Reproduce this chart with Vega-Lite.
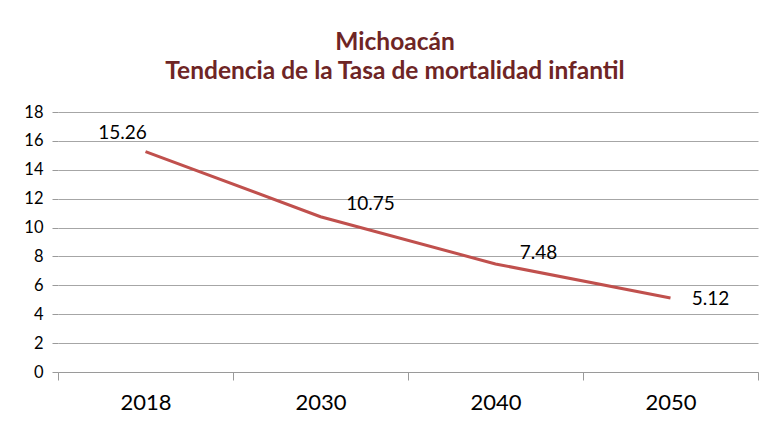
{
  "$schema": "https://vega.github.io/schema/vega-lite/v6.json",
  "width": 700,
  "height": 260,
  "autosize": {"type": "none"},
  "padding": {"left": 58, "top": 112, "right": 7, "bottom": 54},
  "background": "white",
  "title": {
    "text": ["Michoacán", "Tendencia de la Tasa de mortalidad infantil"],
    "font": "Lato",
    "fontSize": 24.5,
    "fontWeight": "bold",
    "color": "#6E2525",
    "lineHeight": 29,
    "anchor": "middle",
    "dx": -13,
    "offset": 20
  },
  "data": {
    "values": [
      {"year": "2018", "tasa": 15.26},
      {"year": "2030", "tasa": 10.75},
      {"year": "2040", "tasa": 7.48},
      {"year": "2050", "tasa": 5.12}
    ]
  },
  "config": {
    "view": {"stroke": null},
    "axis": {"labelFont": "Lato", "labelColor": "#000000"}
  },
  "encoding": {
    "x": {
      "field": "year",
      "type": "ordinal",
      "title": null,
      "scale": {"paddingInner": 0, "paddingOuter": 0},
      "axis": {
        "labelAngle": 0,
        "labelFontSize": 22,
        "labelPadding": 12,
        "tickBand": "extent",
        "tickSize": 8,
        "tickColor": "#9a9a9a",
        "domainColor": "#9a9a9a",
        "grid": false
      }
    },
    "y": {
      "field": "tasa",
      "type": "quantitative",
      "title": null,
      "scale": {"domain": [0, 18], "nice": false},
      "axis": {
        "values": [0, 2, 4, 6, 8, 10, 12, 14, 16, 18],
        "labelFontSize": 16.5,
        "labelPadding": 9,
        "tickSize": 6,
        "tickColor": "#9a9a9a",
        "domain": false,
        "gridColor": "#a6a6a6",
        "gridWidth": 1
      }
    }
  },
  "layer": [
    {"mark": {"type": "line", "color": "#C0504D", "strokeWidth": 3}},
    {
      "transform": [{"filter": "datum.year == '2018'"}],
      "mark": {"type": "text", "font": "Lato", "fontSize": 19, "dx": -23, "dy": -19, "baseline": "middle"},
      "encoding": {"text": {"field": "tasa", "format": ".2f"}}
    },
    {
      "transform": [{"filter": "datum.year == '2030'"}],
      "mark": {"type": "text", "font": "Lato", "fontSize": 19, "dx": 50, "dy": -13, "baseline": "middle"},
      "encoding": {"text": {"field": "tasa", "format": ".2f"}}
    },
    {
      "transform": [{"filter": "datum.year == '2040'"}],
      "mark": {"type": "text", "font": "Lato", "fontSize": 19, "dx": 43, "dy": -11, "baseline": "middle"},
      "encoding": {"text": {"field": "tasa", "format": ".2f"}}
    },
    {
      "transform": [{"filter": "datum.year == '2050'"}],
      "mark": {"type": "text", "font": "Lato", "fontSize": 19, "dx": 40, "dy": 1, "baseline": "middle"},
      "encoding": {"text": {"field": "tasa", "format": ".2f"}}
    }
  ]
}
